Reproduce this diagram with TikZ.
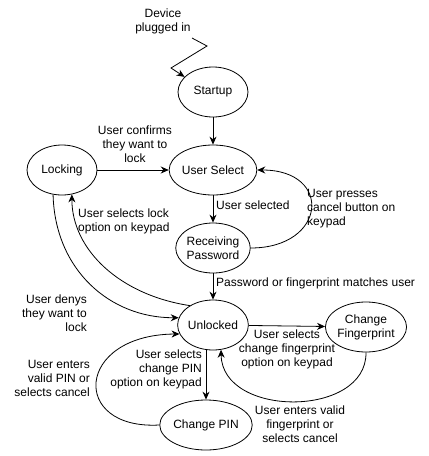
\documentclass[tikz,border=0pt]{standalone}
\usepackage{fontspec}
\setmainfont{Liberation Sans}
\usetikzlibrary{shapes.geometric, arrows.meta}
\tikzstyle{state} = [ellipse, minimum width=70pt, minimum height=50pt, inner sep=0pt, text centered, draw=black, line width=0.8pt, font=\fontsize{12}{14}\selectfont, align=center]
\tikzstyle{lbl} = [inner sep=0pt, font=\fontsize{12}{14}\selectfont]
\tikzstyle{arrow} = [line width=0.8pt,->,>={Stealth[length=8pt,width=7pt]}]

\begin{document}
\begin{tikzpicture}[x=1pt, y=1pt, node distance=78pt]
\useasboundingbox (0,0) rectangle (429,-456);

\node (startup) [state] at (213,-92) {Startup};

\node (usersel) [state, below of=startup] {User Select};

\node (recv) [state, below of=usersel] {Receiving\\Password};

\node (unlocked) [state, below of=recv, yshift=1pt] {Unlocked};

\node (locking) [state, left of=usersel, xshift=-73pt] {Locking};

\node (changefp) [state, right of=unlocked, xshift=75pt, yshift=-2pt] {Change\\Fingerprint};

\node (changepin) [state, below of=unlocked, xshift=-7pt, yshift=-22pt] {Change PIN};

\node (dev) [lbl, align=center] at (163,-21) {Device\\plugged in};
\node (confirm) [lbl, align=center] at (135,-144) {User confirms\\they want to\\lock};
\node (selected) [lbl, anchor=west] at (216,-205) {User selected};
\node (cancel) [lbl, align=left, anchor=west] at (307,-209) {User presses\\cancel button on\\keypad};
\node (lockopt) [lbl, align=left, anchor=west] at (78,-221) {User selects lock\\option on keypad};
\node (match) [lbl, anchor=west] at (216,-283) {Password or fingerprint matches user};
\node (denys) [lbl, align=right, anchor=east] at (87,-313) {User denys\\they want to\\lock};
\node (fpopt) [lbl, align=center] at (287,-349) {User selects\\change fingerprint\\option on keypad};
\node (pinopt) [lbl, align=right, anchor=east] at (202,-369) {User selects\\change PIN\\option on keypad};
\node (pinback) [lbl, align=right, anchor=east] at (90,-378) {User enters\\valid PIN or\\selects cancel};
\node (fpback) [lbl, align=center] at (300,-424) {User enters valid\\fingerprint or\\selects cancel};

\coordinate (plug) at (192,-38);
\draw [arrow] (plug) -- (207,-46) -- (171,-68) -- (startup.152);
\draw [arrow] (startup) -- (usersel);
\draw [arrow] (locking) -- (usersel);
\draw [arrow] (usersel) -- (recv);
\draw [arrow] (recv.east) .. controls +(76,0) and +(76,0) .. (usersel.east);
\draw [arrow] (recv) -- (unlocked);
\draw [arrow] (unlocked.140) .. controls (120,-295) and (72,-250) .. (locking.292);
\draw [arrow] (locking.250) .. controls (55,-270) and (110,-318) .. (unlocked.168);
\draw [arrow] (unlocked) -- (changefp);
\draw [arrow] (changefp.south) .. controls (367,-418) and (222,-418) .. (unlocked.288);
\draw [arrow] (unlocked.south -| changepin) -- (changepin);
\draw [arrow] (changepin.west) .. controls (70,-430) and (75,-335) .. (unlocked.195);
\end{tikzpicture}
\end{document}
